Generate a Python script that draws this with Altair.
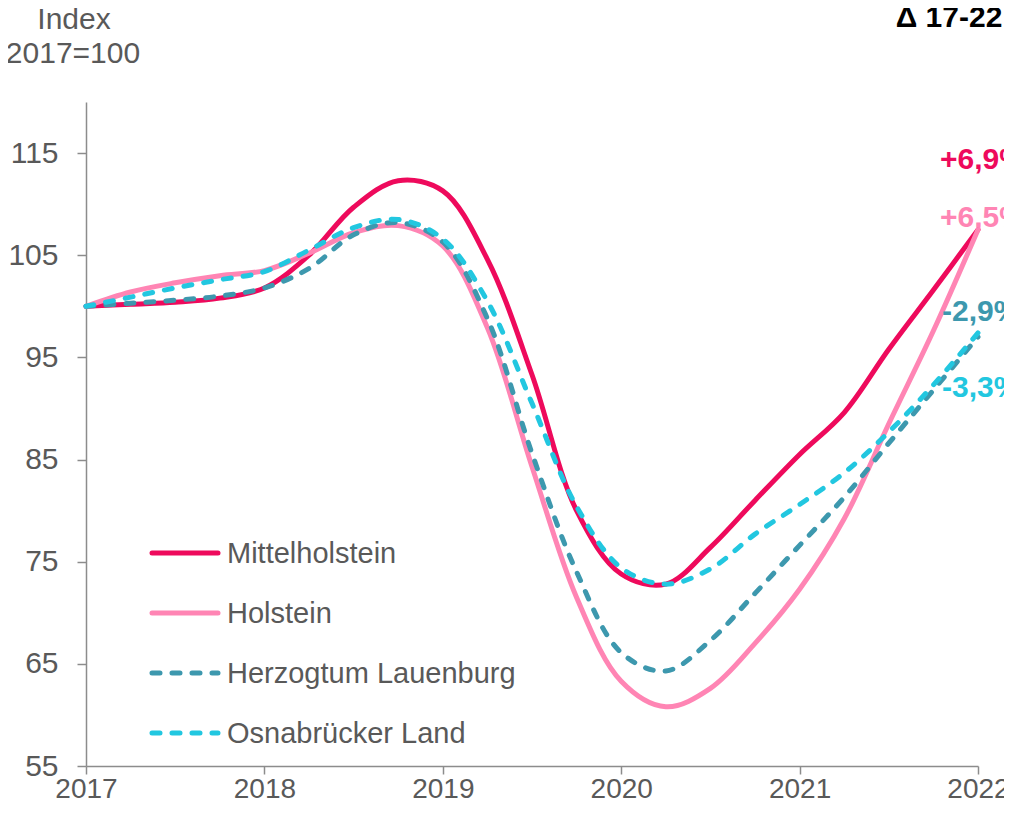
import altair as alt
import pandas as pd

# ---- data ----
periods = [2017.0, 2017.25, 2017.5, 2017.75, 2018.0, 2018.25, 2018.5, 2018.75,
           2019.0, 2019.25, 2019.5, 2019.75, 2020.0, 2020.25, 2020.5, 2020.75,
           2021.0, 2021.25, 2021.5, 2021.75, 2022.0]

mittelholstein = [100.0, 100.2, 100.4, 100.8, 101.8, 105.0, 109.7, 112.3, 111.3, 104.6,
                  93.3, 80.0, 73.8, 72.8, 76.4, 81.0, 85.5, 89.6, 95.8, 101.6, 107.5]
holstein = [100.0, 101.4, 102.3, 103.0, 103.5, 105.2, 107.2, 107.9, 105.9, 97.9,
            84.3, 71.5, 63.3, 60.8, 62.6, 67.0, 72.3, 79.2, 88.5, 97.6, 107.5]
lauenburg = [100.0, 100.3, 100.6, 101.0, 101.8, 103.7, 107.0, 108.2, 106.3, 98.8,
             85.6, 74.0, 66.1, 64.3, 67.3, 71.9, 76.6, 81.3, 86.6, 91.8, 97.0]
osnabrueck = [100.0, 100.9, 101.8, 102.6, 103.4, 105.5, 107.7, 108.5, 106.6, 100.5,
              90.5, 80.4, 74.4, 72.8, 74.3, 77.7, 80.6, 83.7, 87.7, 92.3, 97.4]

series_names = ["Mittelholstein", "Holstein", "Herzogtum Lauenburg", "Osnabrücker Land"]
series_values = [mittelholstein, holstein, lauenburg, osnabrueck]
series_colors = ["#EE0A5C", "#FF85B4", "#3D98AE", "#22C7E0"]
series_dashed = [False, False, True, True]
delta_labels = ["+6,9%", "+6,5%", "-2,9%", "-3,3%"]

x_ticks = [2017, 2018, 2019, 2020, 2021, 2022]
y_ticks = [55, 65, 75, 85, 95, 105, 115]

FONT = "Liberation Sans"
GRAY = "#595959"
AXIS = "#8C8C8C"
FS = 30

W, H = 892, 664

x_enc = alt.X("period:Q",
              scale=alt.Scale(domain=[2017, 2022], nice=False, zero=False),
              axis=alt.Axis(values=x_ticks, format="d", title=None, grid=False,
                            tickSize=8, labelFontSize=28, labelColor=GRAY, labelFont=FONT,
                            domainColor=AXIS, tickColor=AXIS, domainWidth=1.5, tickWidth=1.5,
                            labelPadding=1, labelFlush=False))
y_enc = alt.Y("value:Q",
              scale=alt.Scale(domain=[55, 120], nice=False, zero=False),
              axis=alt.Axis(values=y_ticks, title=None, grid=False,
                            tickSize=9, labelFontSize=FS, labelColor=GRAY, labelFont=FONT,
                            domainColor=AXIS, tickColor=AXIS, domainWidth=1.5, tickWidth=1.5,
                            labelPadding=19))

layers = []
for i, (name, vals, col, dashed) in enumerate(zip(series_names, series_values, series_colors, series_dashed)):
    df = pd.DataFrame({"period": periods, "value": vals, "series": name})
    kw = dict(interpolate="catmull-rom", color=col, strokeWidth=5, strokeCap="round")
    if dashed:
        kw["strokeDash"] = [8, 12]
    enc_x = x_enc if i == 0 else alt.X("period:Q")
    enc_y = y_enc if i == 0 else alt.Y("value:Q")
    layers.append(alt.Chart(df).mark_line(**kw).encode(x=enc_x, y=enc_y))

# ---- legend (manual, inside plot) ----
leg_x0, leg_x1, leg_y0, leg_dy = 64, 134, 451, 60
for i, (name, col, dashed) in enumerate(zip(series_names, series_colors, series_dashed)):
    kw = dict(color=col, strokeWidth=5, strokeCap="round")
    if dashed:
        kw["strokeDash"] = [8, 12]
    yy = leg_y0 + i * leg_dy
    layers.append(alt.Chart(pd.DataFrame({"s": [name]})).mark_rule(**kw).encode(
        x=alt.value(leg_x0 + 2), x2=alt.value(leg_x1 - 2), y=alt.value(yy)))
    layers.append(alt.Chart(pd.DataFrame({"s": [name]})).mark_text(
        text=name, font=FONT, fontSize=29, color=GRAY, align="left", baseline="middle").encode(
        x=alt.value(leg_x1 + 7), y=alt.value(yy + 1)))

# ---- delta labels at right ----
delta_pos = [(854, 58), (854, 116), (856, 210), (856, 286)]
for lab, col, (px, py) in zip(delta_labels, series_colors, delta_pos):
    layers.append(alt.Chart(pd.DataFrame({"t": [lab]})).mark_text(
        text=lab, font=FONT, fontSize=FS, fontWeight="bold", color=col,
        align="left", baseline="middle").encode(x=alt.value(px), y=alt.value(py)))

# ---- titles ----
layers.append(alt.Chart(pd.DataFrame({"t": ["Δ 17-22"]})).mark_text(
    text="Δ 17-22", font=FONT, fontSize=FS, fontWeight="bold", color="#000000",
    align="center", baseline="middle").encode(x=alt.value(863), y=alt.value(-84)))
layers.append(alt.Chart(pd.DataFrame({"t": ["Index"]})).mark_text(
    text="Index", font=FONT, fontSize=FS, color=GRAY,
    align="center", baseline="middle").encode(x=alt.value(-12), y=alt.value(-82)))
layers.append(alt.Chart(pd.DataFrame({"t": ["2017=100"]})).mark_text(
    text="2017=100", font=FONT, fontSize=FS, color=GRAY,
    align="center", baseline="middle").encode(x=alt.value(-13), y=alt.value(-48)))

chart = alt.layer(*layers).properties(
    width=W, height=H,
    autosize=alt.AutoSizeParams(type="none"),
    padding={"left": 78, "top": 94, "right": 26, "bottom": 39},
).configure_view(stroke=None)

chart.save("out.html", embed_options={"renderer": "svg", "actions": False})
